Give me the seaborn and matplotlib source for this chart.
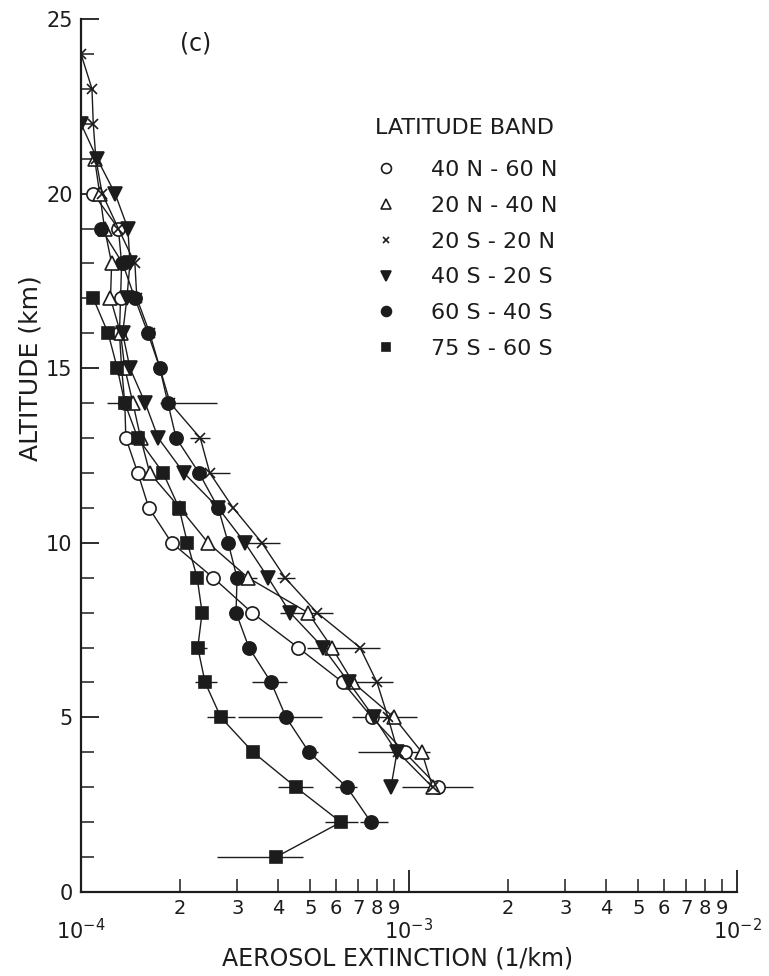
import numpy as np
import pandas as pd
import matplotlib
matplotlib.use("Agg")
import matplotlib.pyplot as plt
import seaborn as sns
from matplotlib.lines import Line2D
from matplotlib.ticker import FixedLocator, FixedFormatter, FuncFormatter

# === Data (extinction in units of 1e-4 /km) ===
bands = ["40 N - 60 N", "20 N - 40 N", "20 S - 20 N", "40 S - 20 S", "60 S - 40 S", "75 S - 60 S"]

alt_40n60n = [20, 19, 18, 17, 16, 15, 14, 13, 12, 11, 10, 9, 8, 7, 6, 5, 4, 3]
ext_40n60n = [1.09, 1.30, 1.33, 1.32, 1.31, 1.33, 1.36, 1.37, 1.49, 1.61, 1.89, 2.53, 3.32, 4.59, 6.29, 7.71, 9.7, 12.3]

alt_20n40n = [21, 20, 19, 18, 17, 16, 15, 14, 13, 12, 11, 10, 9, 8, 7, 6, 5, 4, 3]
ext_20n40n = [1.10, 1.14, 1.18, 1.24, 1.23, 1.32, 1.36, 1.44, 1.52, 1.62, 2.00, 2.44, 3.23, 4.92, 5.82, 6.75, 9.0, 10.95, 11.8]

alt_20s20n = [24, 23, 22, 21, 20, 19, 18, 17, 16, 15, 14, 13, 12, 11, 10, 9, 8, 7, 6, 5, 4, 3]
ext_20s20n = [1.00, 1.08, 1.09, 1.11, 1.16, 1.30, 1.46, 1.48, 1.62, 1.74, 1.87, 2.31, 2.47, 2.91, 3.56, 4.19, 5.24, 7.09, 7.99, 8.63, 9.26, 11.8]

alt_40s20s = [22, 21, 20, 19, 18, 17, 16, 15, 14, 13, 12, 11, 10, 9, 8, 7, 6, 5, 4, 3]
ext_40s20s = [1.00, 1.12, 1.27, 1.39, 1.41, 1.38, 1.34, 1.41, 1.57, 1.72, 2.06, 2.62, 3.16, 3.72, 4.34, 5.47, 6.56, 7.82, 9.19, 8.81]

alt_60s40s = [19, 18, 17, 16, 15, 14, 13, 12, 11, 10, 9, 8, 7, 6, 5, 4, 3, 2]
ext_60s40s = [1.15, 1.34, 1.46, 1.60, 1.74, 1.84, 1.95, 2.29, 2.62, 2.81, 2.99, 2.97, 3.25, 3.80, 4.22, 4.96, 6.47, 7.66]

alt_75s60s = [17, 16, 15, 14, 13, 12, 11, 10, 9, 8, 7, 6, 5, 4, 3, 2, 1]
ext_75s60s = [1.09, 1.21, 1.29, 1.36, 1.49, 1.78, 1.99, 2.11, 2.26, 2.34, 2.27, 2.39, 2.67, 3.35, 4.52, 6.20, 3.93]

# horizontal error bars (altitude, low, high), same units
err_alt = [1, 2, 3, 5, 6, 7, 14, 2, 3, 4, 5, 6, 9, 14, 4, 3, 5, 6, 7, 8, 9, 10, 12, 13]
err_lo = [2.60, 5.55, 3.99, 2.42, 2.23, 2.18, 1.20, 7.09, 5.95, 4.75, 3.01, 3.32, 2.89, 1.74,
          6.99, 9.52, 6.70, 6.60, 4.89, 4.04, 3.96, 3.16, 2.47, 2.15]
err_hi = [4.75, 6.99, 5.10, 2.95, 2.60, 2.42, 1.46, 8.63, 6.94, 5.28, 5.43, 4.25, 3.44, 2.60,
          11.6, 15.7, 10.6, 8.93, 8.16, 5.87, 4.49, 4.04, 2.85, 2.47]

alts = [alt_40n60n, alt_20n40n, alt_20s20n, alt_40s20s, alt_60s40s, alt_75s60s]
exts = [ext_40n60n, ext_20n40n, ext_20s20n, ext_40s20s, ext_60s40s, ext_75s60s]

rows = []
for band, a_list, e_list in zip(bands, alts, exts):
    for a, e in zip(a_list, e_list):
        rows.append({"band": band, "alt": a, "ext": e * 1e-4})
df = pd.DataFrame(rows)

# marker style per band
ink = "#1c1c1c"
marker_style = {
    "40 N - 60 N": dict(marker="o", mfc="white", ms=9.5),
    "20 N - 40 N": dict(marker="^", mfc="white", ms=9.5),
    "20 S - 20 N": dict(marker="x", mfc=ink, ms=6.5),
    "40 S - 20 S": dict(marker="v", mfc=ink, ms=9.5),
    "60 S - 40 S": dict(marker="o", mfc=ink, ms=9.5),
    "75 S - 60 S": dict(marker="s", mfc=ink, ms=8),
}

# === Plot ===
sns.set_theme(style="white")
plt.rcParams["font.family"] = ["DejaVu Sans"]

fig = plt.figure(figsize=(7.69, 9.76), dpi=100)
ax = fig.add_axes([81 / 769, 84 / 976, 656 / 769, 873 / 976])
ax.set_xscale("log")

ax.hlines(err_alt, np.array(err_lo) * 1e-4, np.array(err_hi) * 1e-4, color=ink, lw=1.0, zorder=1)

for band in bands:
    st = marker_style[band]
    sns.lineplot(data=df[df["band"] == band], x="ext", y="alt", orient="y",
                 estimator=None, errorbar=None, ax=ax, color=ink, lw=1.0,
                 marker=st["marker"], markersize=st["ms"], markerfacecolor=st["mfc"],
                 markeredgecolor=ink, markeredgewidth=1.2, legend=False, zorder=3)

ax.set_xlim(1e-4, 1e-2)
ax.set_ylim(0, 25)

# x ticks: decades labelled as powers, intermediate digits as minor labels
ax.xaxis.set_major_locator(FixedLocator([1e-4, 1e-3, 1e-2]))
ax.xaxis.set_major_formatter(FixedFormatter([r"$10^{-4}$", r"$10^{-3}$", r"$10^{-2}$"]))
minor_pos = [d * 1e-4 for d in range(2, 10)] + [d * 1e-3 for d in range(2, 10)]
ax.xaxis.set_minor_locator(FixedLocator(minor_pos))
ax.xaxis.set_minor_formatter(FuncFormatter(lambda v, p: f"{round(v / 10 ** np.floor(np.log10(v) + 1e-9))}"))

ax.yaxis.set_major_locator(FixedLocator([0, 5, 10, 15, 20, 25]))
ax.yaxis.set_minor_locator(FixedLocator(list(range(0, 26))))

ax.tick_params(axis="x", which="major", direction="in", length=16, width=1.3, pad=19,
               labelsize=15, colors=ink)
ax.tick_params(axis="x", which="minor", direction="in", length=9.5, width=1.1, pad=5,
               labelsize=14, labelcolor=ink, color=ink)
ax.tick_params(axis="y", which="major", direction="in", length=13, width=1.3, pad=6,
               labelsize=15, colors=ink)
ax.tick_params(axis="y", which="minor", direction="in", length=9, width=1.1, color=ink)
ax.tick_params(bottom=True, left=True, which="both")

sns.despine(ax=ax)
for side in ["left", "bottom"]:
    ax.spines[side].set_color(ink)
    ax.spines[side].set_linewidth(1.6)

ax.set_xlabel("AEROSOL EXTINCTION (1/km)", fontsize=17, color=ink)
ax.xaxis.set_label_coords(0.483, -0.062)
ax.set_ylabel("ALTITUDE (km)", fontsize=18, color=ink)
ax.yaxis.set_label_coords(-0.058, 0.6)

fig.text(196 / 769, 1 - 43 / 976, "(c)", fontsize=17, color=ink, ha="center", va="center")

# legend with markers only, title set as its own text
fig.text(375 / 769, 1 - 128 / 976, "LATITUDE BAND", fontsize=16, color=ink, ha="left", va="center")
handles = [Line2D([], [], ls="none", marker=marker_style[b]["marker"], mfc=marker_style[b]["mfc"],
                  mec=ink, mew=1.2, ms=marker_style[b]["ms"] * 0.75) for b in bands]
leg = ax.legend(handles, bands, frameon=False, loc="upper left",
                bbox_to_anchor=(375 / 769, 1 - 160 / 976), bbox_transform=fig.transFigure,
                fontsize=16, handlelength=1.0, handletextpad=1.5, labelspacing=0.71,
                borderpad=0, borderaxespad=0)
for t in leg.get_texts():
    t.set_color(ink)

fig.savefig("out.png", dpi=100)
